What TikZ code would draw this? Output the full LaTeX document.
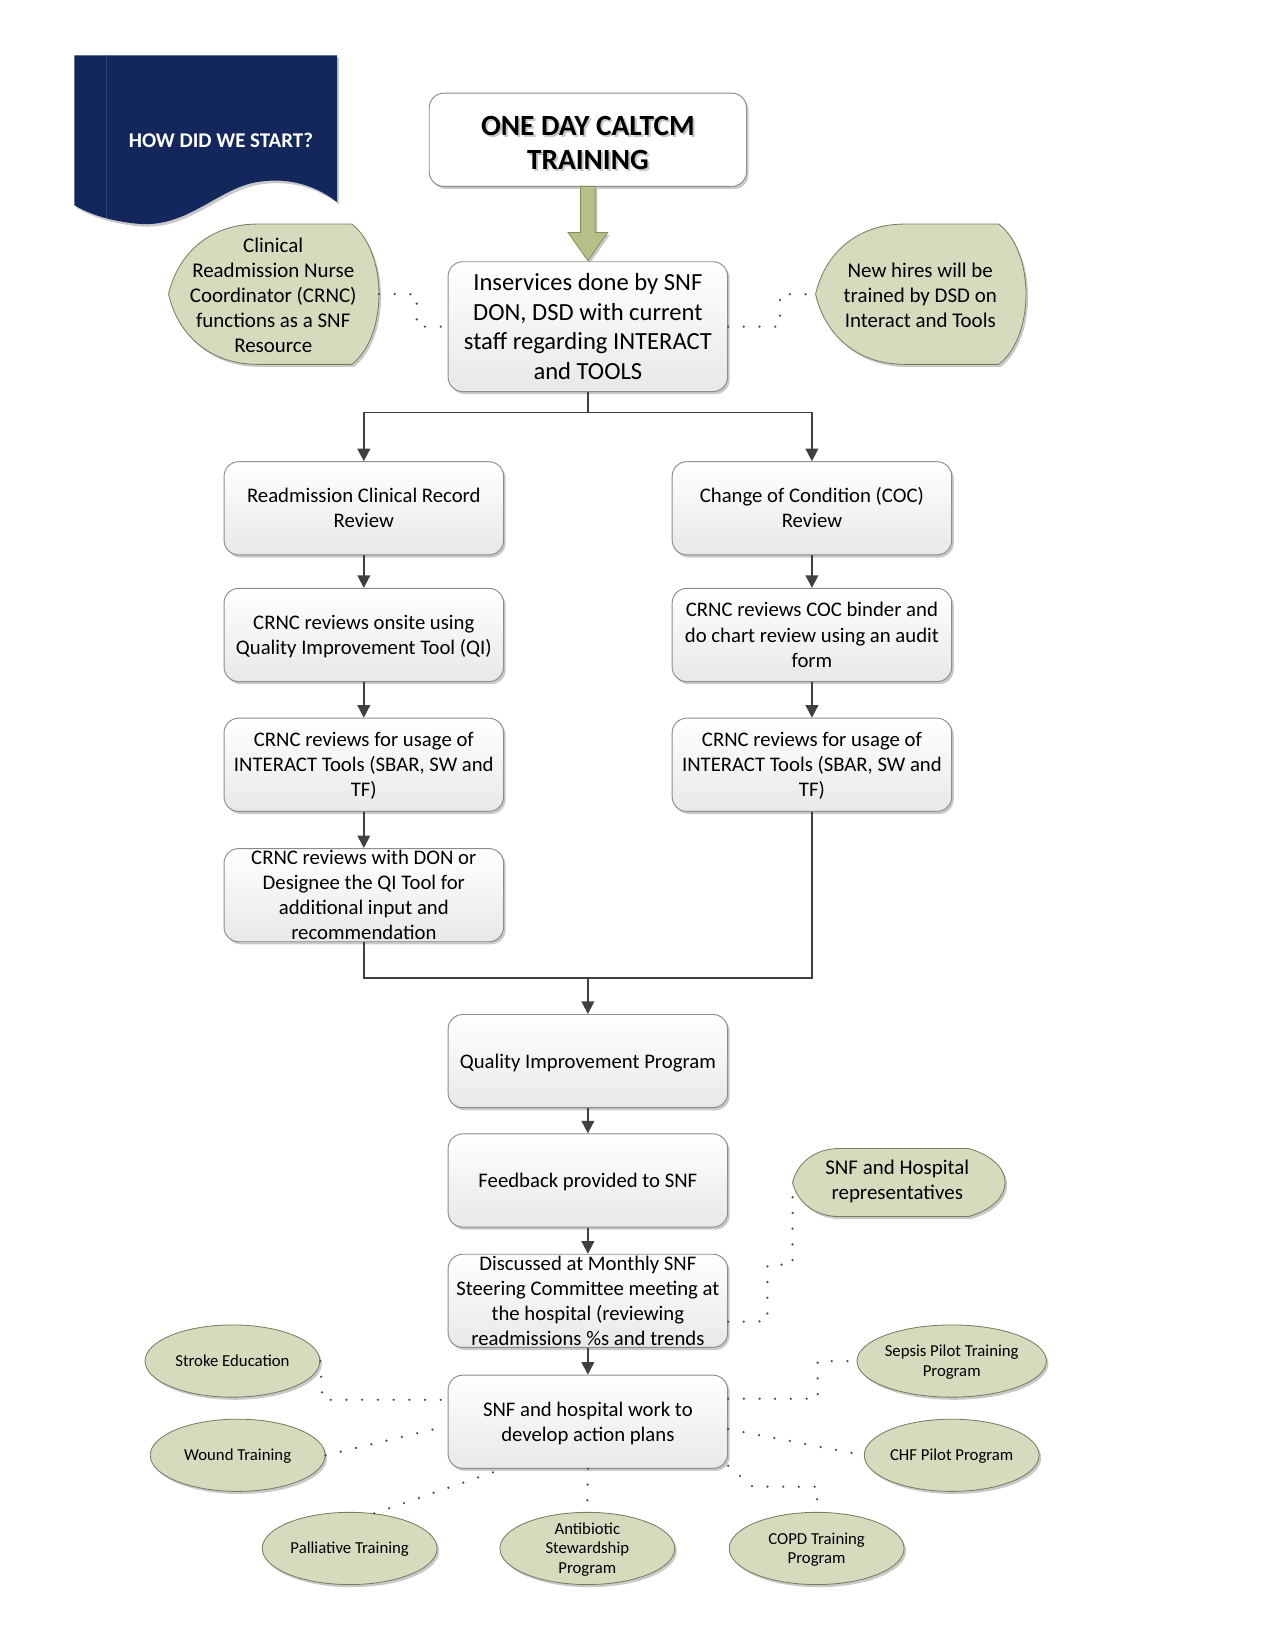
\documentclass[tikz,border=0pt]{standalone}
\usepackage{fontspec}
\setmainfont{Carlito}
\usetikzlibrary{shadows,arrows.meta,calc,shapes.geometric}
\definecolor{navy}{RGB}{19,39,93}
\definecolor{navyline}{RGB}{45,65,115}
\definecolor{olivef}{RGB}{215,219,190}
\definecolor{oliveb}{RGB}{120,124,96}
\definecolor{garrow}{RGB}{181,192,137}
\definecolor{garrowb}{RGB}{130,145,88}
\definecolor{boxb}{RGB}{140,140,140}
\definecolor{conn}{RGB}{64,64,64}
\newcommand{\bt}[1]{\raisebox{-0.36em}[0pt][0pt]{\begin{tabular}{@{}c@{}}#1\end{tabular}}}
\newcommand{\dispshape}[7]{% lx ty w h a b name
  \path[draw=oliveb,line width=0.8pt,fill=olivef,sh]
    (#1,#2+#4/2) .. controls (#1+0.1*#5,#2+0.22*#4) and (#1+0.45*#5,#2) .. (#1+#5,#2)
    -- (#1+#3-#6,#2) .. controls (#1+#3+0.333*#6,#2+0.2*#4) and (#1+#3+0.333*#6,#2+0.8*#4) .. (#1+#3-#6,#2+#4)
    -- (#1+#5,#2+#4) .. controls (#1+0.45*#5,#2+#4) and (#1+0.1*#5,#2+0.78*#4) .. cycle;
  \coordinate (#7L) at (#1,#2+#4/2);
  \coordinate (#7R) at (#1+#3,#2+#4/2);
}
\begin{document}
\begin{tikzpicture}[x=1pt,y=-1pt,
  sh/.style={drop shadow={shadow xshift=2pt,shadow yshift=-2.5pt,opacity=0.3,fill=black!70}},
  box/.style={draw=boxb,line width=0.9pt,rounded corners=14pt,top color=white,bottom color=black!9,
     sh,minimum width=267pt,minimum height=89pt,inner sep=0pt,font=\fontsize{19.8}{24}\selectfont},
  ell/.style={ellipse,draw=oliveb,line width=0.8pt,fill=olivef,sh,minimum width=167pt,minimum height=69pt,
     inner sep=0pt,font=\fontsize{16}{19}\selectfont},
  dtext/.style={inner sep=0pt,font=\fontsize{20}{24}\selectfont},
  line/.style={draw=conn,line width=1.8pt},
  arr/.style={line,-{Triangle[length=12pt,width=12pt]}},
  dots/.style={draw=black!70,line width=2.4pt,line cap=round,dash pattern=on 0pt off 15pt}
]
\useasboundingbox (0,0) rectangle (1218,1576);

% title document shape
\path[fill=navy,sh] (71,53) -- (322,53) -- (322,193)
  .. controls (300,176) and (272,168) .. (240,175)
  .. controls (205,184) and (178,216) .. (135,214)
  .. controls (108,212) and (86,205) .. (71,196) -- cycle;
\draw[navyline,line width=1pt] (102,53) -- (102,208);
\node[text=white,font=\fontsize{20}{24}\selectfont\bfseries] (title) at (211,134) {HOW DID WE START?};

% top box
\node[box,top color=white,bottom color=white,minimum width=303pt] (oneday) at (561.5,133.5) {};
\node[text=black!22,font=\fontsize{28}{33}\selectfont\bfseries] (onedaysh) at (563.5,137) {\bt{ONE DAY CALTCM\\TRAINING}};
\node[font=\fontsize{28}{33}\selectfont\bfseries] (onedaytx) at (561.5,135) {\bt{ONE DAY CALTCM\\TRAINING}};

% green arrow
\path[fill=garrow,draw=garrowb,line width=0.8pt,sh] (554.5,178) -- (568.5,178) -- (568.5,222) -- (580.5,222)
  -- (561.5,249) -- (542.5,222) -- (554.5,222) -- cycle;

\node[box,font=\fontsize{23.5}{28.5}\selectfont,minimum height=124pt] (inserv) at (561.5,312)
  {\bt{Inservices done by SNF\\DON, DSD with current\\staff regarding INTERACT\\and TOOLS}};

% side display shapes
\dispshape{161}{214}{201}{134}{85}{26}{crnc}
\node[dtext] (crnctx) at (261,282) {\bt{Clinical\\Readmission Nurse\\Coordinator (CRNC)\\functions as a SNF\\Resource}};
\dispshape{779}{214}{201}{134}{85}{26}{newh}
\node[dtext] (newhtx) at (879,282) {\bt{New hires will be\\trained by DSD on\\Interact and Tools}};

% columns
\node[box] (b1) at (347.5,485.5) {\bt{Readmission Clinical Record\\Review}};
\node[box] (b2) at (347.5,606.5) {\bt{CRNC reviews onsite using\\Quality Improvement Tool (QI)}};
\node[box] (b3) at (347.5,730.5) {\bt{CRNC reviews for usage of\\INTERACT Tools (SBAR, SW and\\TF)}};
\node[box] (b4) at (347.5,855) {\bt{CRNC reviews with DON or\\Designee the QI Tool for\\additional input and\\recommendation}};
\node[box] (c1) at (775.5,485.5) {\bt{Change of Condition (COC)\\Review}};
\node[box] (c2) at (775.5,606.5) {\bt{CRNC reviews COC binder and\\do chart review using an audit\\form}};
\node[box] (c3) at (775.5,730.5) {\bt{CRNC reviews for usage of\\INTERACT Tools (SBAR, SW and\\TF)}};

\node[box] (qi) at (561.5,1013.5) {\bt{Quality Improvement Program}};
\node[box] (fb) at (561.5,1127.5) {\bt{Feedback provided to SNF}};
\node[box] (disc) at (561.5,1242.5) {\bt{Discussed at Monthly SNF\\Steering Committee meeting at\\the hospital (reviewing\\readmissions \%s and trends}};
\node[box] (act) at (561.5,1358) {\bt{SNF and hospital work to\\develop action plans}};

% connectors
\coordinate (j1) at (561.5,394);
\draw[line] (inserv.south) -- (j1);
\draw[arr] (j1) -| (b1.north);
\draw[arr] (j1) -| (c1.north);
\draw[arr] (b1) -- (b2);
\draw[arr] (b2) -- (b3);
\draw[arr] (b3) -- (b4);
\draw[arr] (c1) -- (c2);
\draw[arr] (c2) -- (c3);
\coordinate (j2) at (561.5,934);
\draw[line] (b4.south) |- (j2);
\draw[line] (c3.south) |- (j2);
\draw[arr] (j2) -- (qi.north);
\draw[arr] (qi) -- (fb);
\draw[arr] (fb) -- (disc);
\draw[arr] (disc) -- (act);

% SNF reps
\dispshape{757}{1097}{203}{65}{45}{35}{snf}
\node[dtext] (snftx) at (857,1127) {\bt{SNF and Hospital\\representatives}};

% ellipses
\node[ell] (stroke) at (222,1300) {\bt{Stroke Education}};
\node[ell] (wound) at (227,1390) {\bt{Wound Training}};
\node[ell] (palli) at (334,1479) {\bt{Palliative Training}};
\node[ell] (anti) at (561,1479) {\bt{Antibiotic\\Stewardship\\Program}};
\node[ell] (copd) at (780,1479) {\bt{COPD Training\\Program}};
\node[ell] (sepsis) at (909,1300) {\bt{Sepsis Pilot Training\\Program}};
\node[ell] (chf) at (909,1390) {\bt{CHF Pilot Program}};

% dotted connectors
\draw[dots] (crncR) -- (398,281) |- (inserv.west);
\draw[dots] (inserv.east) -| (745,281) -- (newhL);
\draw[dots] ($(disc.east)+(0,20)$) -- (733,1262) -- (733,1208) -- (757,1208) -- (snfL);
\draw[dots] (stroke.east) -- (308,1337) -- ($(act.west)+(0,-21)$);
\draw[dots] (wound.east) -- ($(act.west)+(0,4)$);
\draw[dots] (palli.55) -- ($(act.south west)+(53,0)$);
\draw[dots] (act.south) -- (anti.north);
\draw[dots] ($(act.south east)+(0,-3)$) -- (719,1420) -- (781,1420) -- (copd.north);
\draw[dots] ($(act.east)+(0,7)$) -- (chf.west);
\draw[dots] ($(act.east)+(0,-22)$) -- (781,1336) -- (781,1300) -- (sepsis.west);
\end{tikzpicture}
\end{document}
